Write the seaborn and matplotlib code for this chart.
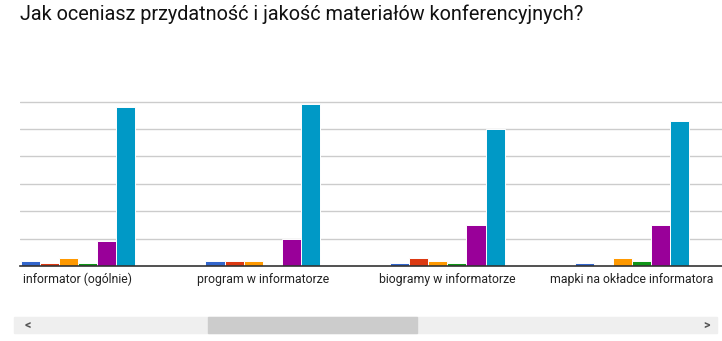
import matplotlib
matplotlib.use("Agg")
import matplotlib.pyplot as plt
import seaborn as sns
import pandas as pd
from matplotlib.patches import Rectangle

categories = ["informator (ogólnie)", "program w informatorze",
              "biogramy w informatorze", "mapki na okładce informatora"]
ratings = ["1", "2", "3", "4", "5", "6"]
values = {
    "1": [2, 2, 1, 1],
    "2": [1, 2, 3, 0],
    "3": [3, 2, 2, 3],
    "4": [1, 0, 1, 2],
    "5": [9, 10, 15, 15],
    "6": [58, 59, 50, 53],
}
colors = ["#3366cc", "#dc3912", "#ff9900", "#109618", "#990099", "#0099c6"]
title = "Jak oceniasz przydatność i jakość materiałów konferencyjnych?"

rows = []
for r in ratings:
    for c, v in zip(categories, values[r]):
        rows.append({"category": c, "rating": r, "value": v})
df = pd.DataFrame(rows)

sns.set_theme(style="white")
plt.rcParams["font.family"] = ["Roboto", "DejaVu Sans"]

W, H = 722, 341
fig = plt.figure(figsize=(W / 100, H / 100), dpi=100)
left, right, top, bottom = 20, 722, 90, 266
ax = fig.add_axes([left / W, 1 - bottom / H, (right - left) / W, (bottom - top) / H])

sns.barplot(data=df, x="category", y="value", hue="rating", palette=colors,
            saturation=1, width=0.62, edgecolor="white", linewidth=0.7,
            legend=False, ax=ax, zorder=3)

ax.set_xlim(-0.314, -0.314 + (right - left) / 184.7)
ax.set_ylim(0, 60 * (bottom - top) / 164.3)
ax.set_yticks([10, 20, 30, 40, 50, 60])
ax.yaxis.grid(True, color="#cccccc", linewidth=1, zorder=0)
ax.set_yticklabels([])
ax.tick_params(axis="y", length=0)
ax.tick_params(axis="x", length=0, pad=5, labelsize=8.8, labelcolor="#222222")
for s in ["top", "right", "left"]:
    ax.spines[s].set_visible(False)
ax.spines["bottom"].set_color("#333333")
ax.spines["bottom"].set_linewidth(1.2)
ax.spines["bottom"].set_zorder(4)
ax.set_xlabel("")
ax.set_ylabel("")

fig.text(20 / W, 1 - 14 / H, title, fontsize=14.35, color="#111111",
         ha="left", va="center")

# scrollbar
def fpx(x0, y0, w, h, color):
    fig.patches.append(Rectangle((x0 / W, 1 - (y0 + h) / H), w / W, h / H,
                                 transform=fig.transFigure, color=color,
                                 zorder=0))
fpx(14, 317, 703, 16, "#efefef")
fpx(208, 317, 209, 16, "#cccccc")
fig.text(28 / W, 1 - 325 / H, "<", fontsize=9, color="#555555", fontweight="bold",
         ha="center", va="center")
fig.text(707 / W, 1 - 325 / H, ">", fontsize=9, color="#555555", fontweight="bold",
         ha="center", va="center")

fig.savefig("out.png", dpi=100)
